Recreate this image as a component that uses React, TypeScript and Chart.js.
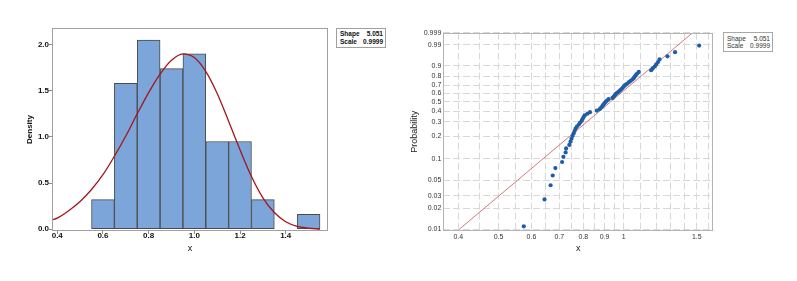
import React, { useEffect, useRef } from 'react';
import { Chart, registerables } from 'chart.js';

Chart.register(...registerables);

// ---------- Histogram (left) ----------
const BIN_CENTERS = [0.6, 0.7, 0.8, 0.9, 1.0, 1.1, 1.2, 1.3, 1.5];
const BIN_DENSITY = [0.32, 1.58, 2.05, 1.74, 1.9, 0.95, 0.95, 0.32, 0.16];

const CURVE_X = [0.377, 0.4, 0.45, 0.5, 0.55, 0.6, 0.65, 0.7, 0.75, 0.8, 0.85, 0.9, 0.95, 1.0, 1.05, 1.1, 1.15, 1.2, 1.25, 1.3, 1.35, 1.4, 1.45, 1.5, 1.55];
const CURVE_Y = [0.1, 0.12, 0.2, 0.3, 0.43, 0.59, 0.79, 1.01, 1.25, 1.48, 1.68, 1.83, 1.9, 1.86, 1.71, 1.47, 1.17, 0.86, 0.57, 0.34, 0.18, 0.08, 0.03, 0.01, 0.0];

const HIST_X_TICKS = [0.4, 0.6, 0.8, 1.0, 1.2, 1.4];
const HIST_Y_TICKS = [0, 0.5, 1.0, 1.5, 2.0];

// ---------- Probability plot (right) ----------
const SAMPLE_X = [
  0.575, 0.645, 0.667, 0.675, 0.685, 0.711, 0.716, 0.725, 0.727, 0.74,
  0.745, 0.749, 0.753, 0.758, 0.762, 0.766, 0.772, 0.78, 0.786, 0.793,
  0.797, 0.801, 0.806, 0.818, 0.83, 0.862, 0.876, 0.883, 0.889, 0.894,
  0.899, 0.905, 0.912, 0.92, 0.94, 0.947, 0.952, 0.958, 0.966, 0.975,
  0.982, 0.99, 0.996, 1.002, 1.01, 1.02, 1.03, 1.04, 1.05, 1.058,
  1.064, 1.07, 1.078, 1.088, 1.165, 1.175, 1.188, 1.198, 1.21, 1.22,
  1.275, 1.33, 1.52,
];
const SAMPLE_P = [
  0.01104, 0.02681, 0.04259, 0.05836, 0.07413, 0.08991, 0.10568, 0.12145, 0.13722, 0.153,
  0.16877, 0.18454, 0.20032, 0.21609, 0.23186, 0.24763, 0.26341, 0.27918, 0.29495, 0.31073,
  0.3265, 0.34227, 0.35804, 0.37382, 0.38959, 0.40536, 0.42114, 0.43691, 0.45268, 0.46845,
  0.48423, 0.5, 0.51577, 0.53155, 0.54732, 0.56309, 0.57886, 0.59464, 0.61041, 0.62618,
  0.64196, 0.65773, 0.6735, 0.68927, 0.70505, 0.72082, 0.73659, 0.75237, 0.76814, 0.78391,
  0.79968, 0.81546, 0.83123, 0.847, 0.86278, 0.87855, 0.89432, 0.91009, 0.92587, 0.94164,
  0.95741, 0.97319, 0.98896,
];
const FIT_X = [0.402, 1.466];
const FIT_P = [0.01, 0.999];

const PROB_TICKS = [0.01, 0.02, 0.03, 0.05, 0.1, 0.2, 0.3, 0.4, 0.5, 0.6, 0.7, 0.8, 0.9, 0.99, 0.999];
const PROB_LABELS = ['0.01', '0.02', '0.03', '0.05', '0.1', '0.2', '0.3', '0.4', '0.5', '0.6', '0.7', '0.8', '0.9', '0.99', '0.999'];
const PP_X_GRID = [0.4, 0.45, 0.5, 0.55, 0.6, 0.65, 0.7, 0.75, 0.8, 0.85, 0.9, 0.95, 1, 1.1, 1.2, 1.3, 1.4, 1.5, 1.6];
const PP_X_LABELS = ['0.4', '', '0.5', '', '0.6', '', '0.7', '', '0.8', '', '0.9', '', '1', '', '', '', '', '1.5', ''];

const FONT = "'Liberation Sans', Arial, sans-serif";

// Weibull probability-paper transform for the y scale
const wt = (p: number) => Math.log(-Math.log(1 - p));

const framePlugin = (color: string) => ({
  id: 'frame',
  afterDatasetsDraw(chart: any) {
    const { ctx, chartArea: a } = chart;
    ctx.save();
    ctx.strokeStyle = color;
    ctx.lineWidth = 1;
    ctx.strokeRect(Math.round(a.left) + 0.5, Math.round(a.top) + 0.5, Math.round(a.right - a.left) - 1, Math.round(a.bottom - a.top) - 1);
    ctx.restore();
  },
});

function Histogram() {
  const ref = useRef<HTMLCanvasElement | null>(null);
  useEffect(() => {
    if (!ref.current) return;
    const chart = new Chart(ref.current, {
      type: 'bar',
      data: {
        datasets: [
          {
            type: 'line',
            data: CURVE_X.map((x, i) => ({ x, y: CURVE_Y[i] })),
            borderColor: '#a3161c',
            borderWidth: 1.3,
            pointRadius: 0,
            cubicInterpolationMode: 'monotone',
            order: 0,
          } as any,
          {
            type: 'bar',
            data: BIN_CENTERS.map((x, i) => ({ x, y: BIN_DENSITY[i] })),
            backgroundColor: '#7ca5d9',
            borderColor: '#4a4a4a',
            borderWidth: 1,
            borderSkipped: false,
            barPercentage: 1,
            categoryPercentage: 1,
            order: 1,
          } as any,
        ],
      },
      options: {
        animation: false,
        responsive: false,
        events: [],
        layout: { padding: { left: 25.2, top: 28, right: 72, bottom: 26.6 } },
        plugins: { legend: { display: false }, tooltip: { enabled: false } },
        scales: {
          x: {
            type: 'linear',
            offset: false,
            min: 0.377,
            max: 1.585,
            afterBuildTicks: (s: any) => { s.ticks = HIST_X_TICKS.map((v) => ({ value: v })); },
            afterFit: (s: any) => { s.height = 23.4; },
            grid: { display: true, offset: false, drawOnChartArea: false, drawTicks: true, tickLength: 3, color: '#8a8a8a' },
            border: { display: false },
            ticks: {
              padding: -2,
              maxRotation: 0,
              autoSkip: false,
              color: '#111',
              font: { family: FONT, size: 8, weight: 'bold', lineHeight: 1 },
              callback: (v: any) => Number(v).toFixed(1),
            },
            title: { display: true, text: 'x', padding: 0, color: '#111', font: { family: FONT, size: 9, lineHeight: 1.2 } },
          },
          y: {
            type: 'linear',
            min: -0.02,
            max: 2.18,
            afterBuildTicks: (s: any) => { s.ticks = HIST_Y_TICKS.map((v) => ({ value: v })); },
            afterFit: (s: any) => { s.width = 26.8; },
            grid: { display: true, drawOnChartArea: false, drawTicks: true, tickLength: 3, color: '#8a8a8a' },
            border: { display: false },
            ticks: {
              padding: 0,
              color: '#111',
              font: { family: FONT, size: 8, weight: 'bold' },
              callback: (v: any) => Number(v).toFixed(1),
            },
            title: { display: true, text: 'Density', padding: 0, color: '#111', font: { family: FONT, size: 8, weight: 'bold', lineHeight: 1.2 } },
          },
        },
      } as any,
      plugins: [framePlugin('#a0a0a0')],
    });
    return () => chart.destroy();
  }, []);
  return <canvas ref={ref} width={400} height={281} style={{ position: 'absolute', left: 0, top: 0, width: 400, height: 281 }} />;
}

function ProbPlot() {
  const ref = useRef<HTMLCanvasElement | null>(null);
  useEffect(() => {
    if (!ref.current) return;
    const chart = new Chart(ref.current, {
      type: 'scatter',
      data: {
        datasets: [
          {
            data: SAMPLE_X.map((x, i) => ({ x, y: wt(SAMPLE_P[i]) })),
            backgroundColor: '#1f5ca8',
            borderWidth: 0,
            pointRadius: 2.1,
            order: 0,
          } as any,
          {
            data: FIT_X.map((x, i) => ({ x, y: wt(FIT_P[i]) })),
            showLine: true,
            borderColor: '#d47878',
            borderWidth: 1,
            pointRadius: 0,
            order: 1,
          } as any,
        ],
      },
      options: {
        animation: false,
        responsive: false,
        events: [],
        layout: { padding: { left: 9.6, top: 32.7, right: 83.7, bottom: 26.6 } },
        plugins: { legend: { display: false }, tooltip: { enabled: false } },
        scales: {
          x: {
            type: 'logarithmic',
            min: 0.368,
            max: 1.644,
            afterBuildTicks: (s: any) => { s.ticks = PP_X_GRID.map((v) => ({ value: v })); },
            afterFit: (s: any) => { s.height = 23.7; },
            grid: { display: true, drawOnChartArea: true, drawTicks: false, color: '#d8d8d8', lineWidth: 1 },
            border: { display: false, dash: [7, 3] },
            ticks: {
              padding: 2,
              maxRotation: 0,
              autoSkip: false,
              color: '#333',
              font: { family: FONT, size: 7, lineHeight: 1.2 },
              callback: (_v: any, i: number) => PP_X_LABELS[i],
            },
            title: { display: true, text: 'x', padding: 0, color: '#222', font: { family: FONT, size: 9, lineHeight: 1.2 } },
          },
          y: {
            type: 'linear',
            min: -4.645,
            max: 1.933,
            afterBuildTicks: (s: any) => { s.ticks = PROB_TICKS.map((p) => ({ value: wt(p) })); },
            afterFit: (s: any) => { s.width = 33.7; },
            grid: { display: true, drawOnChartArea: true, drawTicks: false, color: '#d8d8d8', lineWidth: 1 },
            border: { display: false, dash: [7, 3] },
            ticks: {
              padding: 2,
              autoSkip: false,
              color: '#333',
              font: { family: FONT, size: 7 },
              callback: (_v: any, i: number) => PROB_LABELS[i],
            },
            title: { display: true, text: 'Probability', padding: 0, color: '#222', font: { family: FONT, size: 9, lineHeight: 1.2 } },
          },
        },
      } as any,
      plugins: [framePlugin('#b4b4b4')],
    });
    return () => chart.destroy();
  }, []);
  return <canvas ref={ref} width={397} height={281} style={{ position: 'absolute', left: 400, top: 0, width: 397, height: 281 }} />;
}

function ParamBox(props: { left: number; top: number; width: number; height: number; bold: boolean; lineHeight: number; padTop: number; color: string; border: string }) {
  const rowStyle: React.CSSProperties = { display: 'flex', justifyContent: 'space-between', lineHeight: props.lineHeight + 'px', height: props.lineHeight };
  return (
    <div
      style={{
        position: 'absolute',
        left: props.left,
        top: props.top,
        width: props.width,
        height: props.height,
        boxSizing: 'border-box',
        border: '1px solid ' + props.border,
        padding: `${props.padTop}px 2px 0 3px`,
        fontFamily: FONT,
        fontSize: 6.5,
        fontWeight: props.bold ? 'bold' : 'normal',
        color: props.color,
        background: '#fff',
      }}
    >
      <div style={rowStyle}><span>Shape</span><span>5.051</span></div>
      <div style={rowStyle}><span>Scale</span><span>0.9999</span></div>
    </div>
  );
}

export default function App() {
  return (
    <div style={{ position: 'absolute', left: 0, top: 0, width: 797, height: 281, background: '#fff', overflow: 'hidden' }}>
      <Histogram />
      <ProbPlot />
      <ParamBox left={336} top={28} width={50} height={20} bold={true} lineHeight={8.5} padTop={0.5} color="#111" border="#a0a0a0" />
      <ParamBox left={723} top={32} width={50} height={20} bold={false} lineHeight={7} padTop={1.5} color="#333" border="#a8a8a8" />
    </div>
  );
}
